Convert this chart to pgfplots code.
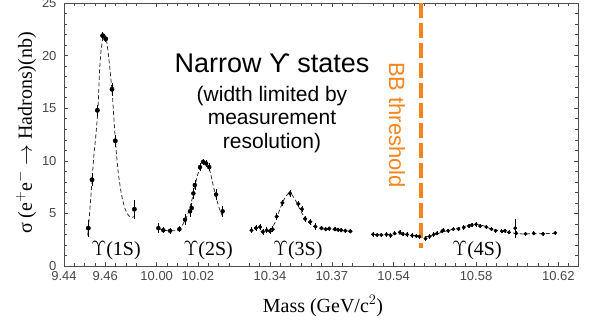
\documentclass[border=0pt]{standalone}
\usepackage{pgfplots}
\pgfplotsset{compat=1.18}
\usepackage{fontspec}
\setmainfont{Liberation Serif}
\newfontfamily\arial{Liberation Sans}
\definecolor{bborange}{RGB}{247,132,28}
\definecolor{tickgray}{RGB}{70,70,70}
\begin{document}
\begin{tikzpicture}[x=1pt,y=1pt]
\path[use as bounding box] (-64,-58) rectangle (533,266);
\begin{axis}[
  at={(0,0)}, anchor=south west,
  scale only axis, width=514pt, height=263pt,
  xmin=0, xmax=49.9, ymin=0, ymax=25,
  clip=false,
  axis line style={black!70, line width=0.6pt},
  xtick={0,4,9,13,20,26,32,40,48},
  xticklabels={9.44,9.46,10.00,10.02,10.34,10.37,10.54,10.58,10.62},
  minor xtick={1,2,3,5,6,7,10,11,12,14,15,16,18,19,21,22,23,24,25,27,28,30,31,33,34,35,36,37,38,39,41,42,43,44,45,46,47,49},
  ytick={0,5,10,15,20,25},
  yticklabels={0,5,10,15,20,25},
  minor ytick={1,2,3,4,6,7,8,9,11,12,13,14,16,17,18,19,21,22,23,24},
  tick align=inside,
  major tick length=4pt, minor tick length=3pt,
  tick style={black!70, line width=0.5pt},
  ticklabel style={font=\arial\fontsize{13}{13}\selectfont, text=tickgray},
  xticklabel style={yshift=-2pt},
  yticklabel style={xshift=-4pt},
  error bars/y dir=both, error bars/y explicit,
  error bars/error bar style={black, line width=0.6pt},
  error bars/error mark=none,
]
% fitted curves
\pgfplotsset{fitcurve/.style={black!85, dash pattern=on 4pt off 2.5pt, line width=0.75pt, smooth, tension=0.4}}
\addplot[fitcurve] coordinates {
(2.3,2.9)(2.5,5.2)(2.7,7.8)(2.9,10.5)(3.1,12.5)(3.3,15)(3.45,18.5)(3.6,20.5)(3.8,21.8)(3.95,22.0)(4.1,21.6)(4.3,20.2)(4.5,18.3)(4.7,16.2)(4.9,13.2)(5.1,10.6)(5.3,8.6)(5.6,6.7)(5.9,5.5)(6.2,4.9)(6.5,4.6)(6.8,4.7)};
\addplot[fitcurve] coordinates {
(9.2,3.6)(9.6,3.4)(10.3,3.35)(11.0,3.4)(11.5,3.9)(12.0,4.9)(12.5,6.6)(12.9,8.4)(13.3,9.6)(13.6,9.95)(13.9,9.7)(14.2,8.9)(14.5,7.6)(14.8,6.4)(15.1,5.4)(15.5,4.5)};
\addplot[fitcurve] coordinates {
(19.3,3.3)(19.8,3.35)(20.2,3.6)(20.6,4.4)(21.0,5.5)(21.4,6.4)(21.8,6.9)(22.1,6.8)(22.5,6.2)(22.9,5.4)(23.3,4.7)(23.8,4.1)(24.3,3.75)(25,3.55)(26,3.45)(27.8,3.3)};
\addplot[fitcurve] coordinates {
(30,3.0)(31,2.95)(32,3.05)(33,3.0)(34,2.9)(35,2.8)(35.5,2.85)(36,3.0)(37,3.3)(38,3.55)(39,3.8)(40,3.95)(40.8,3.8)(41.5,3.5)(42.5,3.3)(43.5,3.15)(44.5,3.05)(47.7,3.1)};
% data points
\addplot[only marks, mark=*, mark size=2.2pt, black] table[y error index=2] {
x y e
2.36 3.6 0.8
2.72 8.2 0.6
3.24 14.8 0.5
3.75 21.9 0.3
4.05 21.6 0.3
4.66 16.8 0.6
4.98 11.9 0.6
6.83 5.4 0.9
};
\addplot[only marks, mark=*, mark size=2.0pt, black] table[y error index=2] {
x y e
9.16 3.6 0.5
9.64 3.4 0.3
10.3 3.35 0.3
11.2 3.5 0.3
11.75 4.4 0.5
12.23 5.2 0.5
12.4 5.5 0.5
12.56 6.9 0.5
12.7 7.7 0.5
13.2 9.4 0.4
13.5 9.9 0.3
13.8 9.75 0.3
14.1 9.4 0.4
14.76 6.8 0.5
15.4 5.2 0.5
};
\addplot[only marks, mark=*, mark size=1.9pt, black] table[y error index=2] {
x y e
18.2 3.4 0.3
18.64 3.6 0.3
19.03 3.7 0.3
19.3 3.25 0.3
19.68 3.4 0.3
20.0 3.3 0.3
20.26 3.5 0.3
20.65 4.7 0.3
21.2 6.0 0.3
21.94 6.9 0.3
22.75 5.9 0.3
23.1 5.4 0.3
23.4 4.5 0.3
23.9 4.2 0.3
24.4 3.75 0.3
25.0 3.6 0.2
25.4 3.5 0.2
25.75 3.55 0.2
26.3 3.5 0.2
26.6 3.45 0.2
26.9 3.4 0.2
27.3 3.35 0.2
27.8 3.3 0.2
};
\addplot[only marks, mark=*, mark size=1.7pt, black] table[y error index=2] {
x y e
30.0 3.0 0.2
30.4 2.95 0.2
30.8 2.95 0.2
31.3 3.0 0.2
31.7 2.9 0.2
32.1 3.1 0.2
32.6 3.2 0.2
32.9 3.04 0.2
33.3 3.0 0.2
33.8 2.9 0.2
34.2 2.85 0.2
34.5 2.8 0.2
35.1 2.6 0.2
35.5 2.8 0.2
35.9 3.0 0.2
36.2 3.1 0.2
36.7 3.3 0.2
36.8 3.4 0.2
37.3 3.35 0.2
37.8 3.5 0.2
38.3 3.5 0.2
38.8 3.65 0.2
39.3 3.8 0.2
39.6 3.9 0.2
40.0 3.95 0.2
40.4 3.8 0.2
41.0 3.7 0.2
41.5 3.5 0.2
41.9 3.35 0.2
42.5 3.3 0.2
42.8 3.35 0.2
43.2 3.2 0.2
43.8 3.6 0.9
43.9 3.1 0.2
44.8 3.05 0.2
45.6 3.1 0.2
46.5 3.05 0.2
47.7 3.15 0.2
};
% BB threshold
\addplot[bborange, line width=4pt, dash pattern=on 15pt off 5pt] coordinates {(34.65,25) (34.65,1.7)};
% state labels
\node[font=\fontsize{20}{20}\selectfont] at (axis cs:5.05,1.5) {$\Upsilon$(1S)};
\node[font=\fontsize{20}{20}\selectfont] at (axis cs:14.0,1.5) {$\Upsilon$(2S)};
\node[font=\fontsize{20}{20}\selectfont] at (axis cs:22.7,1.5) {$\Upsilon$(3S)};
\node[font=\fontsize{20}{20}\selectfont] at (axis cs:40.1,1.5) {$\Upsilon$(4S)};
\end{axis}
% annotations (1pt = 1px; axis box from (0,0) to (514,263))
\node[anchor=base, font=\arial\fontsize{27}{27}\selectfont] at (208,193) {Narrow ϒ states};
\node[anchor=base, font=\arial\fontsize{21}{21}\selectfont] at (208,164.3) {(width limited by};
\node[anchor=base, font=\arial\fontsize{21}{21}\selectfont] at (208,141) {measurement};
\node[anchor=base, font=\arial\fontsize{21}{21}\selectfont] at (208,117.7) {resolution)};
\node[rotate=-90, text=bborange, font=\arial\fontsize{22}{22}\selectfont] at (333,141) {BB threshold};
\node[anchor=base, font=\fontsize{20}{20}\selectfont] at (259,-46) {Mass (GeV/c$^{2}$)};
\node[rotate=90, font=\fontsize{20}{20}\selectfont] at (-38,133) {σ (e$^{+}$e$^{-}$ $\rightarrow$ Hadrons)(nb)};
\end{tikzpicture}
\end{document}
